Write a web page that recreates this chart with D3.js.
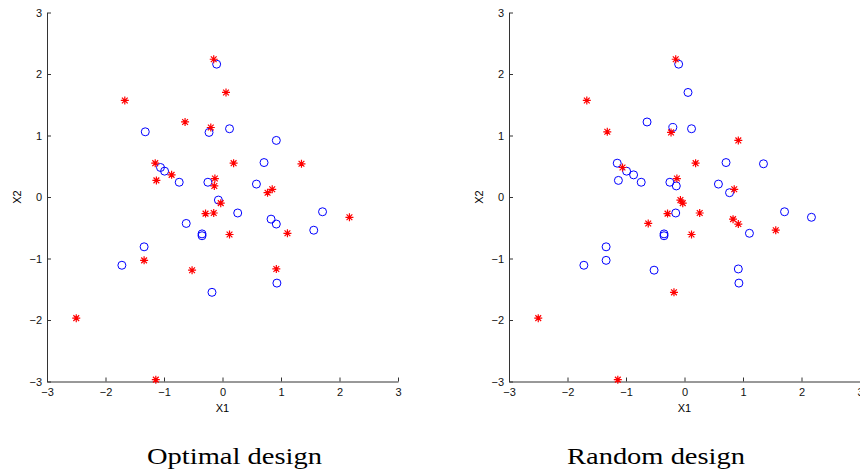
<!DOCTYPE html>
<html>
<head>
<meta charset="utf-8">
<script src="https://cdn.jsdelivr.net/npm/d3@7"></script>
<style>
  body { margin: 0; background: #fff; }
  svg { display: block; }
</style>
</head>
<body>
<svg></svg>
<script>
// candidate points (shared by both designs)
const x1 = [-1.14, -2.50, -1.34, -0.52, -0.29, -0.15, -0.03, 0.12, 1.11, 2.17, 0.92, 0.77, 0.85,
  -1.67, -0.64, -0.15, 0.06, -0.20, -1.15, -1.13, -0.87, -0.13, -0.14, 0.19, 1.35,
  -1.32, -0.10, -0.23, 0.12, 0.92, 0.71, 0.58, -1.06, -0.99, -0.74, -0.25, -0.07, 0.26,
  -0.62, -0.35, -0.35, -1.34, -1.72, -0.18, 0.83, 0.92, 1.71, 1.56, 0.93];
const x2 = [-2.97, -1.97, -1.03, -1.19, -0.27, -0.26, -0.10, -0.61, -0.59, -0.33, -1.17, 0.07, 0.125,
  1.57, 1.22, 2.24, 1.70, 1.13, 0.55, 0.27, 0.36, 0.30, 0.18, 0.55, 0.54,
  1.06, 2.16, 1.05, 1.11, 0.92, 0.56, 0.21, 0.48, 0.42, 0.24, 0.24, -0.05, -0.26,
  -0.43, -0.60, -0.63, -0.81, -1.11, -1.55, -0.36, -0.44, -0.24, -0.54, -1.40];
// 1 = red star, 0 = blue circle
const optimal = [1,1,1,1,1,1,1,1,1,1,1,1,1,1,1,1,1,1,1,1,1,1,1,1,1,
  0,0,0,0,0,0,0,0,0,0,0,0,0,0,0,0,0,0,0,0,0,0,0,0];
const random = [1,1,0,0,1,0,1,1,0,0,0,0,1,1,0,1,0,0,0,0,0,1,0,1,0,
  1,0,1,0,1,0,0,1,0,0,0,1,1,1,0,0,0,0,1,1,1,0,1,0];
const ticks = [-3, -2, -1, 0, 1, 2, 3];
const titles = ["Optimal design", "Random design"];

const width = 860, height = 472;
const svg = d3.select("svg").attr("width", width).attr("height", height);

const panels = [
  {left: 47, right: 398, labels: optimal, title: titles[0], titleX: 234.5, titleW: 175},
  {left: 509, right: 860, labels: random, title: titles[1], titleX: 656, titleW: 178}
];
const marginTop = 12.5, axisBottom = 381.5;

const y = d3.scaleLinear().domain([-3, 3]).range([axisBottom, marginTop]);

// matlab style asterisk
const s = 4;
const star = `M${-s},0H${s}M0,${-s}V${s}M${-s*0.72},${-s*0.72}L${s*0.72},${s*0.72}M${-s*0.72},${s*0.72}L${s*0.72},${-s*0.72}`;
const sans = "'Liberation Sans', Arial, sans-serif";
const fmt = d3.format("d");

panels.forEach(p => {
  const x = d3.scaleLinear().domain([-3, 3]).range([p.left, p.right]);
  const g = svg.append("g");

  g.append("g")
    .attr("transform", `translate(0,${axisBottom})`)
    .call(d3.axisBottom(x).tickValues(ticks).tickFormat(fmt).tickSize(-4).tickPadding(7).tickSizeOuter(0))
    .call(a => a.selectAll("text").attr("font-size", 11).attr("font-family", sans).attr("fill", "#111"))
    .call(a => a.selectAll("line,path").attr("stroke", "#333"));

  g.append("g")
    .attr("transform", `translate(${p.left},0)`)
    .call(d3.axisLeft(y).tickValues(ticks).tickFormat(fmt).tickSize(-4).tickPadding(5).tickSizeOuter(0))
    .call(a => a.selectAll("text").attr("font-size", 11).attr("font-family", sans).attr("fill", "#111"))
    .call(a => a.selectAll("line,path").attr("stroke", "#333"));

  g.append("text")
    .attr("x", (p.left + p.right) / 2).attr("y", 412)
    .attr("text-anchor", "middle")
    .attr("font-size", 11).attr("font-family", sans)
    .text("X1");
  g.append("text")
    .attr("transform", `translate(${p.left - 26},${y(0)}) rotate(-90)`)
    .attr("text-anchor", "middle")
    .attr("font-size", 11).attr("font-family", sans)
    .text("X2");

  const pts = x1.map((v, i) => ({x: v, y: x2[i], k: p.labels[i]}));

  g.append("g").selectAll("circle")
    .data(pts.filter(d => d.k === 0))
    .join("circle")
      .attr("cx", d => x(d.x)).attr("cy", d => y(d.y)).attr("r", 4)
      .attr("fill", "none").attr("stroke", "#0000ff").attr("stroke-width", 1);

  g.append("g").selectAll("path")
    .data(pts.filter(d => d.k === 1))
    .join("path")
      .attr("transform", d => `translate(${x(d.x)},${y(d.y)})`)
      .attr("d", star)
      .attr("fill", "none").attr("stroke", "#ff0000").attr("stroke-width", 1.2);

  g.append("text")
    .attr("x", p.titleX).attr("y", 464)
    .attr("text-anchor", "middle")
    .attr("font-size", 24).attr("font-family", "'Liberation Serif', 'Times New Roman', serif")
    .attr("textLength", p.titleW)
    .attr("lengthAdjust", "spacingAndGlyphs")
    .text(p.title);
});
</script>
</body>
</html>
